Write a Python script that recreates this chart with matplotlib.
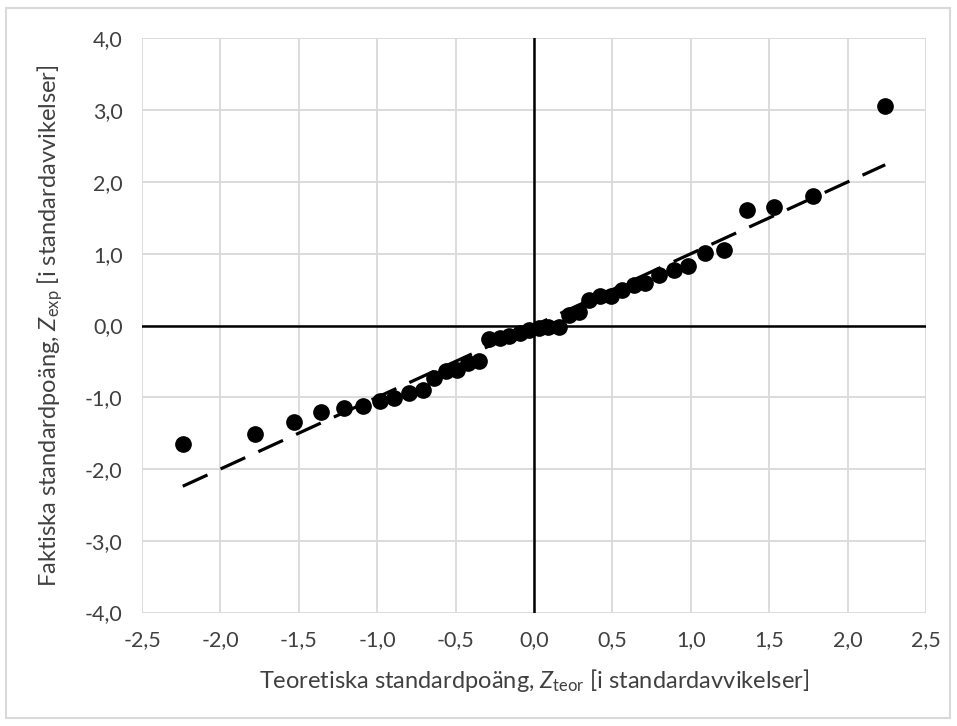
import matplotlib
matplotlib.use("Agg")
import matplotlib.pyplot as plt
from matplotlib.patches import Rectangle

# Normal Q-Q plot, 40 observations
z_teor = [-2.24, -1.78, -1.53, -1.36, -1.21, -1.09, -0.98, -0.89, -0.80, -0.71,
          -0.64, -0.56, -0.49, -0.42, -0.35, -0.29, -0.22, -0.16, -0.09, -0.03,
          0.03, 0.09, 0.16, 0.22, 0.29, 0.35, 0.42, 0.49, 0.56, 0.64,
          0.71, 0.80, 0.89, 0.98, 1.09, 1.21, 1.36, 1.53, 1.78, 2.24]
z_exp = [-1.65, -1.51, -1.35, -1.21, -1.15, -1.12, -1.05, -1.01, -0.94, -0.90,
         -0.73, -0.64, -0.62, -0.52, -0.49, -0.19, -0.17, -0.15, -0.10, -0.06,
         -0.03, -0.02, -0.02, 0.15, 0.19, 0.36, 0.41, 0.41, 0.49, 0.56,
         0.59, 0.70, 0.77, 0.83, 1.01, 1.05, 1.61, 1.65, 1.81, 3.06]
ref_x = [-2.24, 2.24]
ref_y = [-2.24, 2.24]

x_ticks = [-2.5, -2.0, -1.5, -1.0, -0.5, 0.0, 0.5, 1.0, 1.5, 2.0, 2.5]
y_ticks = [-4.0, -3.0, -2.0, -1.0, 0.0, 1.0, 2.0, 3.0, 4.0]

FONT = "Lato"
plt.rcParams["font.family"] = [FONT, "DejaVu Sans"]
plt.rcParams["mathtext.fontset"] = "custom"
plt.rcParams["mathtext.rm"] = FONT
plt.rcParams["mathtext.it"] = f"{FONT}:italic"
TXT = "#404040"
GRID = "#d9d9d9"

fig = plt.figure(figsize=(9.57, 7.26), dpi=100)
ax = fig.add_axes([0.1484, 0.1563, 0.8192, 0.7907])

# outer chart frame
fig.patches.append(Rectangle((0.006, 0.011), 0.987, 0.978, transform=fig.transFigure,
                             fill=False, edgecolor=GRID, linewidth=1.5))

ax.set_xlim(-2.5, 2.5)
ax.set_ylim(-4.0, 4.0)
ax.set_xticks(x_ticks)
ax.set_yticks(y_ticks)
ax.set_xticklabels([f"{v:.1f}".replace(".", ",") for v in x_ticks])
ax.set_yticklabels([f"{v:.1f}".replace(".", ",") for v in y_ticks])
ax.tick_params(length=0, labelsize=15.5, colors=TXT)
ax.tick_params(axis="x", pad=13)
ax.tick_params(axis="y", pad=14)
ax.grid(True, color=GRID, linewidth=1.3)
ax.set_axisbelow(True)
for s in ax.spines.values():
    s.set_visible(False)

ax.axhline(0, color="black", linewidth=1.8, zorder=2)
ax.axvline(0, color="black", linewidth=1.8, zorder=2)

ax.plot(ref_x, ref_y, color="black", linewidth=2.3, dashes=(8.5, 4.5), zorder=3)
ax.plot(z_teor, z_exp, "o", color="black", markersize=11, zorder=4)

ax.set_xlabel(r"Teoretiska standardpoäng, $Z_{\mathrm{teor}}$ [i standardavvikelser]",
              fontsize=17, color=TXT, labelpad=12)
ax.set_ylabel(r"Faktiska standardpoäng, $Z_{\mathrm{exp}}$ [i standardavvikelser]",
              fontsize=17, color=TXT, labelpad=14)

fig.savefig("out.png", dpi=100)
